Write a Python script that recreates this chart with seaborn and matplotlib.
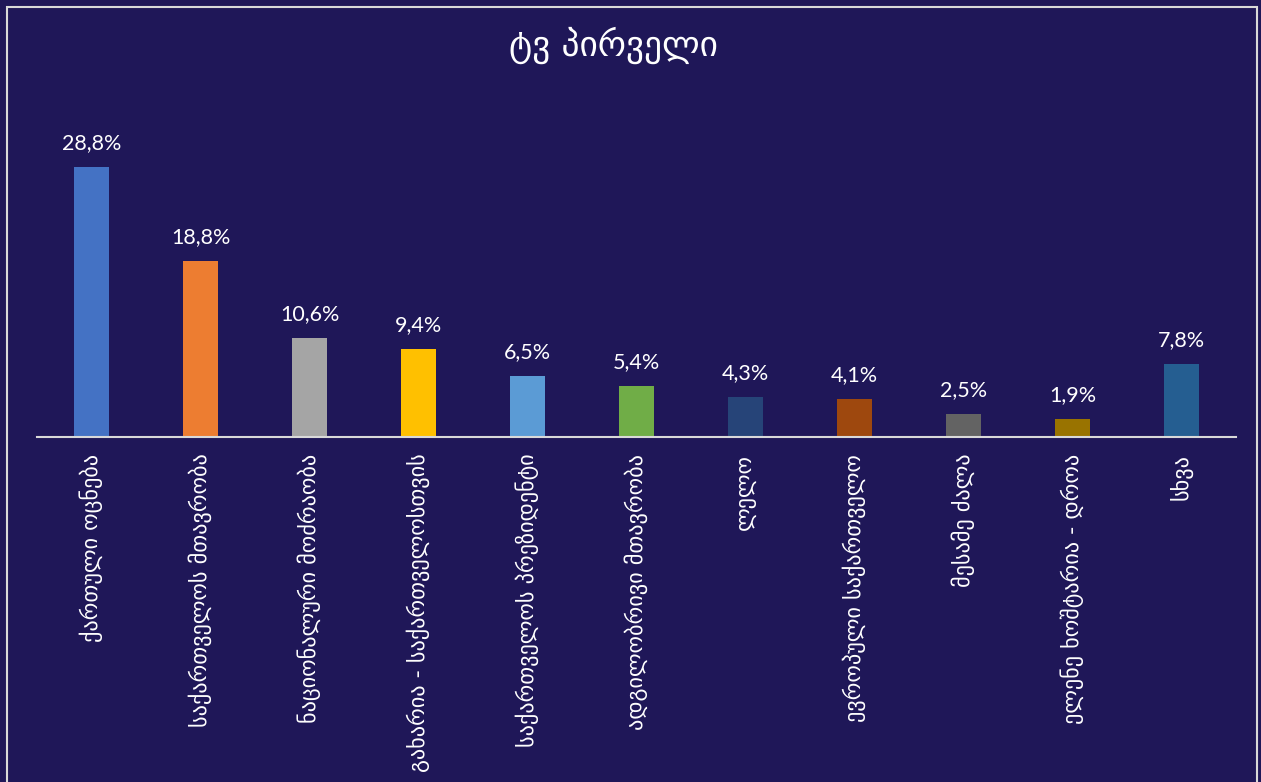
import pandas as pd
import seaborn as sns
import matplotlib.pyplot as plt
from matplotlib.patches import Rectangle

# მონაცემები
categories = [
    "ქართული ოცნება",
    "საქართველოს მთავრობა",
    "ნაციონალური მოძრაობა",
    "გახარია - საქართველოსთვის",
    "საქართველოს პრეზიდენტი",
    "ადგილობრივი მთავრობა",
    "ლელო",
    "ევროპული საქართველო",
    "მესამე ძალა",
    "ელენე ხოშტარია - დროა",
    "სხვა",
]
values = [28.8, 18.8, 10.6, 9.4, 6.5, 5.4, 4.3, 4.1, 2.5, 1.9, 7.8]
colors = ["#4472C4", "#ED7D31", "#A5A5A5", "#FFC000", "#5B9BD5", "#70AD47",
          "#264478", "#9E480E", "#636363", "#997300", "#255E91"]
title = "ტვ პირველი"

bg = "#1F1758"
df = pd.DataFrame({"cat": categories, "val": values})

fig = plt.figure(figsize=(12.61, 7.82), dpi=100, facecolor=bg)
fig.patches.append(Rectangle((7 / 1261, -0.05), 1250 / 1261, 1.05 - 7 / 782,
                             transform=fig.transFigure, facecolor="none",
                             edgecolor="#D9D9D9", linewidth=1.5))
ax = fig.add_axes([37 / 1261, 1 - 437 / 782, 1199 / 1261, 356.25 / 782])
ax.set_facecolor(bg)

sns.barplot(data=df, x="cat", y="val", hue="cat", palette=colors,
            width=0.32, legend=False, ax=ax, saturation=1)

for cont, v in zip(ax.containers, values):
    ax.bar_label(cont, labels=[f"{v:.1f}".replace(".", ",") + "%"], padding=10,
                 color="white", fontsize=15.5, family=["Lato", "DejaVu Sans"])

ax.set_ylim(0, 38)
ax.set_xlim(-0.5, len(categories) - 0.5)
ax.set_xlabel("")
ax.set_ylabel("")
ax.set_yticks([])
for s in ["top", "right", "left"]:
    ax.spines[s].set_visible(False)
ax.spines["bottom"].set_color("#D9D9D9")
ax.spines["bottom"].set_linewidth(1.5)
ax.tick_params(axis="x", length=0, pad=12, colors="white")
ax.set_xticks(range(len(categories)))
ax.set_xticklabels(categories, rotation=90, fontsize=16, color="white",
                   family=["DejaVu Sans"], va="top", ha="center")

fig.text(613 / 1261, 1 - 45 / 782, title, color="white", fontsize=25.5,
         ha="center", va="center", family=["DejaVu Sans"])

fig.savefig("out.png", dpi=100, facecolor=bg)
